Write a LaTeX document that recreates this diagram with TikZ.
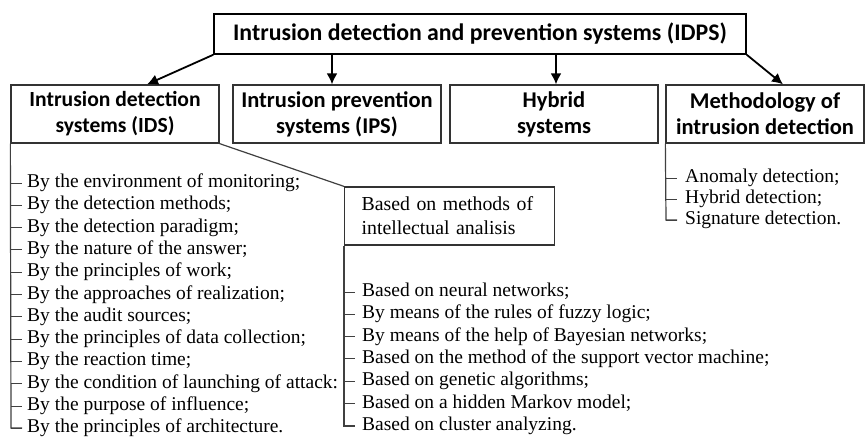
\documentclass[tikz,border=0pt]{standalone}
\usepackage{fontspec}
\setmainfont{Liberation Serif}
\newfontfamily\boxfont{Carlito}
\usetikzlibrary{arrows.meta}
\begin{document}
\begin{tikzpicture}[x=1pt,y=-1pt,
  boxlabel/.style={font=\boxfont\bfseries\fontsize{22.5}{26}\selectfont, align=center, inner sep=0pt, draw=black!80, line width=1.3pt},
  item/.style={font=\fontsize{19.5}{22}\selectfont, anchor=base west, inner sep=0pt},
  conn/.style={line width=1.8pt, -{Latex[length=11pt,width=11pt]}},
  bracket/.style={draw=black!75, line width=1.2pt},
  tick/.style={draw=black!75, line width=1pt},
]
\useasboundingbox (0,0) rectangle (866,439);
\fill[white] (0,0) rectangle (866,439);

% boxes
\node[boxlabel, font=\boxfont\bfseries\fontsize{23.8}{26}\selectfont, line width=1.6pt, draw=black, minimum width=532pt, minimum height=40pt] (idps) at (480,34) {Intrusion detection and prevention systems (IDPS)};
\node[boxlabel, font=\boxfont\bfseries\fontsize{21.6}{26}\selectfont, minimum width=208pt, minimum height=58pt] (ids) at (115,114) {Intrusion detection\\systems (IDS)};
\node[boxlabel, minimum width=208pt, minimum height=58pt] (ips) at (337,114) {Intrusion prevention\\systems (IPS)};
\node[boxlabel, minimum width=208pt, minimum height=58pt] (hyb) at (554,114) {Hybrid\\systems};
\node[boxlabel, minimum width=198pt, minimum height=58pt] (meth) at (765,114) {Methodology of\\intrusion detection};
\node[draw=black!80, line width=1.2pt, anchor=west, inner xsep=17pt, inner ysep=0pt,
      text width=176pt, minimum height=58pt, align=left,
      font=\fontsize{19.8}{24}\selectfont] (based) at (344,216) {Based on methods of\\intellectual analisis};

% arrows
\draw[conn] (idps.south west) -- ([xshift=32pt]ids.north);
\draw[conn] ([xshift=-5pt]ips.north |- idps.south) -- ([xshift=-5pt]ips.north);
\draw[conn] ([xshift=2pt]hyb.north |- idps.south) -- ([xshift=2pt]hyb.north);
\draw[conn] (idps.south east) -- ([xshift=18pt]meth.north);

% link IDS -> based
\draw[bracket] (ids.south east) -- (based.north west);

% left list
\coordinate (lend) at (11,428);
\draw[bracket] (ids.south west) -- (lend) -- ++(11,0);
\foreach \t [count=\i] in {{By the environment of monitoring;},{By the detection methods;},{By the detection paradigm;},{By the nature of the answer;},{By the principles of work;},{By the approaches of realization;},{By the audit sources;},{By the principles of data collection;},{By the reaction time;},{By the condition of launching of attack:},{By the purpose of influence;},{By the principles of architecture.}}{
  \pgfmathsetmacro\yy{183+(\i-1)*22.3}
  \node[item] (L\i) at (27,\yy+4.5) {\t};
  \draw[tick] (11,\yy) -- ++(11,0);
}

% middle list
\coordinate (mend) at (344,426);
\draw[bracket] (based.south west) -- (mend) -- ++(11,0);
\foreach \t [count=\i] in {{Based on neural networks;},{By means of the rules of fuzzy logic;},{By means of the help of Bayesian networks;},{Based on the method of the support vector machine;},{Based on genetic algorithms;},{Based on a hidden Markov model;},{Based on cluster analyzing.}}{
  \pgfmathsetmacro\yy{292+(\i-1)*22.3}
  \node[item] (M\i) at (362,\yy+4.5) {\t};
  \draw[tick] (344,\yy) -- ++(11,0);
}

% methodology list
\coordinate (rend) at (666,220);
\draw[bracket] (meth.south west) -- (rend) -- ++(11,0);
\foreach \t [count=\i] in {{Anomaly detection;},{Hybrid detection;},{Signature detection.}}{
  \pgfmathsetmacro\yy{178+(\i-1)*21}
  \node[item] (R\i) at (685,\yy+4.5) {\t};
  \draw[tick] (666,\yy) -- ++(11,0);
}
\end{tikzpicture}
\end{document}
